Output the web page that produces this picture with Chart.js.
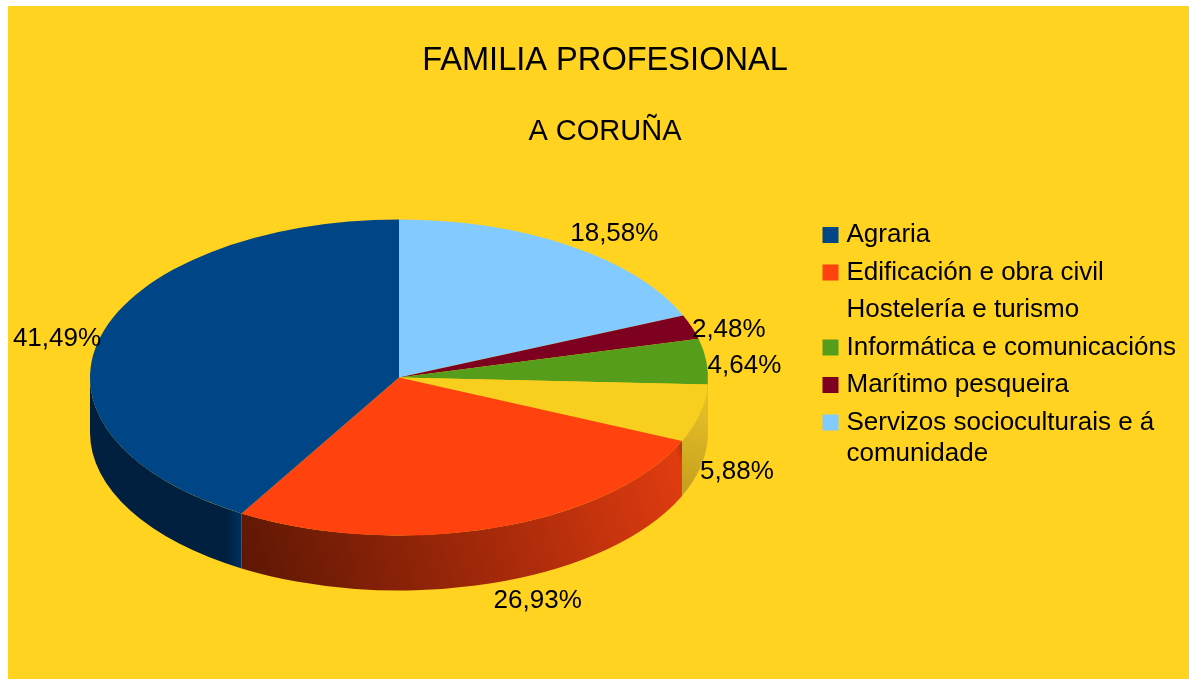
<!DOCTYPE html>
<html><head><meta charset="utf-8">
<style>html,body{margin:0;padding:0;background:#fff;overflow:hidden}
canvas{position:absolute;left:8px;top:6px;background:#FFD320}</style>
<script src="https://cdn.jsdelivr.net/npm/chart.js@4/dist/chart.umd.min.js"></script>
</head><body><canvas id="c" width="1181" height="673"></canvas>
<script>
// Data, in legend order
const categories = ['Agraria','Edificación e obra civil','Hostelería e turismo','Informática e comunicacións','Marítimo pesqueira','Servizos socioculturais e á comunidade'];
const shares = [41.49,26.93,5.88,4.64,2.48,18.58];
const shareLabels = ['41,49%','26,93%','5,88%','4,64%','2,48%','18,58%'];
const sliceColors = ['#004586','#FF420E','#F9CF1F','#579D1C','#7E0021','#83CAFF'];
const legendColors = ['#004586','#FF420E','#FFD320','#579D1C','#7E0021','#83CAFF'];

const FONT = '"Liberation Sans", Arial, sans-serif';
const OX = 8, OY = 6;
const CX = 399-OX, CY = 377.5-OY, RX = 309, RY = 158, DEPTH = 55;
const K = RY/RX;
const nudges = [[-44,3.5],[44,73],[37,59],[38,4],[37,3],[45,-12]];

function sideFill(ctx,i){
  let g;
  const P=(x,y)=>[x-OX,y-OY];
  if(i===0){ // Agraria
    g=ctx.createLinearGradient(...P(90,0),...P(242,0));
    g.addColorStop(0,'#01203F');g.addColorStop(.9,'#01203F');g.addColorStop(1,'#003262');
  } else if(i===1){ // Edificacion
    g=ctx.createLinearGradient(...P(250,590),...P(690,450));
    g.addColorStop(0,'#5E1704');g.addColorStop(.55,'#A82A0A');g.addColorStop(.97,'#E03C10');g.addColorStop(1,'#8E2A0C');
  } else if(i===2){ // Hosteleria
    g=ctx.createLinearGradient(...P(708,395),...P(680,495));
    g.addColorStop(0,'#E8C229');g.addColorStop(1,'#C49E1E');
  } else g=sliceColors[i];
  return g;
}

const pie3d = {
  id:'pie3d',
  afterLayout(chart){
    const l=chart.legend;
    l.left=826-OX-10; l.right=1181; l.top=216.5-OY-6; l.bottom=673; l.width=l.right-l.left; l.height=l.bottom-l.top;
  },
  beforeDatasetsDraw(chart){
    const ctx=chart.ctx, arcs=chart.getDatasetMeta(0).data;
    const n=categories.length;
    arcs.forEach((arc,j)=>{
      const i=n-1-j;
      const a1=Math.max(arc.startAngle,0), a2=Math.min(arc.endAngle,Math.PI);
      if(a2<=a1) return;
      ctx.beginPath();
      ctx.ellipse(CX,CY,RX,RY,0,a1,a2);
      ctx.ellipse(CX,CY+DEPTH,RX,RY,0,a2,a1,true);
      ctx.closePath();
      ctx.fillStyle=sideFill(ctx,i);
      ctx.fill();
    });
    ctx.save();
    const a=arcs[0];
    ctx.translate(CX,CY);ctx.scale(1,K);ctx.translate(-a.x,-a.y);
  },
  afterDatasetsDraw(chart){
    const ctx=chart.ctx, arcs=chart.getDatasetMeta(0).data;
    ctx.restore();
    const n=categories.length;
    ctx.save();
    ctx.font='26px '+FONT;ctx.fillStyle='#000';ctx.textAlign='center';ctx.textBaseline='middle';
    arcs.forEach((arc,j)=>{
      const i=n-1-j, m=(arc.startAngle+arc.endAngle)/2;
      ctx.fillText(shareLabels[i],CX+RX*Math.cos(m)+nudges[i][0],CY+RY*Math.sin(m)+nudges[i][1]);
    });
    ctx.restore();
  }
};

new Chart(document.getElementById('c'),{
  type:'pie',
  data:{labels:categories.slice().reverse(),datasets:[{
    data:shares.slice().reverse(),
    backgroundColor:sliceColors.slice().reverse(),
    borderWidth:0,clip:false
  }]},
  plugins:[pie3d],
  options:{
    responsive:false,animation:false,
    radius:RX,rotation:0,
    layout:{padding:{left:13,right:0,top:0,bottom:0}},
    plugins:{
      tooltip:{enabled:false},
      title:{display:true,text:'FAMILIA PROFESIONAL',color:'#000',
        font:{family:FONT,size:32.6,weight:'normal',lineHeight:1.2},padding:{top:35,bottom:34}},
      subtitle:{display:true,text:'A CORUÑA',color:'#000',
        font:{family:FONT,size:29,weight:'normal',lineHeight:1.2},padding:{top:0,bottom:10}},
      legend:{position:'right',align:'start',reverse:true,
        labels:{
          color:'#000',boxWidth:6,boxHeight:6,padding:11.5,
          font:{family:FONT,size:26,lineHeight:1.19},
          generateLabels(){
            return categories.map((c,i)=>({
              text:i===5?['Servizos socioculturais e á','comunidade']:c,
              fillStyle:legendColors[i],strokeStyle:legendColors[i],lineWidth:10,
              lineJoin:'miter',lineCap:'butt',lineDash:[],hidden:false,index:i,fontColor:'#000'
            })).reverse();
          }
        }
      }
    }
  }
});
</script></body></html>
